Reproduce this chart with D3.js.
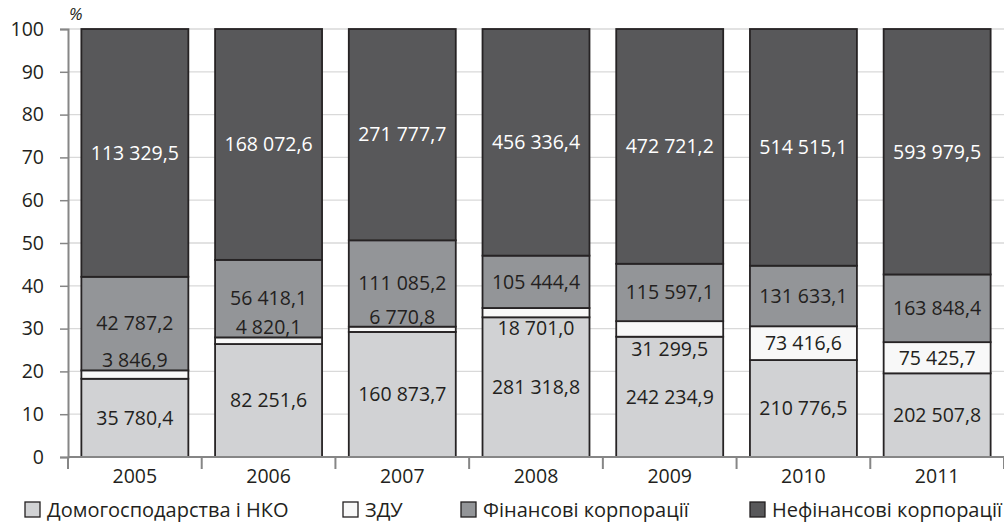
<!DOCTYPE html>
<html>
<head>
<meta charset="utf-8">
<script src="https://cdn.jsdelivr.net/npm/d3@7"></script>
<style>
  html, body { margin: 0; padding: 0; background: #ffffff; }
  svg { display: block; font-family: "Open Sans", sans-serif; }
</style>
</head>
<body>
<svg id="chart" width="1004" height="524"></svg>
<script>
// Years on the x axis
const years = ["2005", "2006", "2007", "2008", "2009", "2010", "2011"];

// Series names (legend order = stacking order, bottom to top)
const seriesNames = ["Домогосподарства і НКО", "ЗДУ", "Фінансові корпорації", "Нефінансові корпорації"];

// Absolute amounts per sector, by year
const households = [35780.4, 82251.6, 160873.7, 281318.8, 242234.9, 210776.5, 202507.8];
const government = [3846.9, 4820.1, 6770.8, 18701.0, 31299.5, 73416.6, 75425.7];
const financial = [42787.2, 56418.1, 111085.2, 105444.4, 115597.1, 131633.1, 163848.4];
const nonFinancial = [113329.5, 168072.6, 271777.7, 456336.4, 472721.2, 514515.1, 593979.5];

// Y axis ticks (percent)
const yTicks = [0, 10, 20, 30, 40, 50, 60, 70, 80, 90, 100];

const seriesValues = [households, government, financial, nonFinancial];
const keys = ["hh", "gov", "fin", "nonfin"];
const fills = ["#d1d2d4", "#f8f8f8", "#939598", "#58585a"];
const labelColors = ["#231f20", "#231f20", "#231f20", "#ffffff"];

// Small vertical shifts (px) for the narrow government-sector labels
const govLabelShift = [-14, -14, -12, 16, 20, 0, 0];

const rows = years.map((yr, i) => {
  const r = { year: yr };
  keys.forEach((k, j) => { r[k] = seriesValues[j][i]; });
  return r;
});

const stacked = d3.stack().keys(keys).offset(d3.stackOffsetExpand)(rows);

const svg = d3.select("#chart");
const plotLeft = 68, plotRight = 1004, plotTop = 29, plotBottom = 457;

const x = d3.scaleBand().domain(years).range([plotLeft, plotRight]).paddingInner(0.2).paddingOuter(0.1);
const y = d3.scaleLinear().domain([0, 100]).range([plotBottom, plotTop]);

// Gridlines
svg.append("g")
  .selectAll("line")
  .data(yTicks.filter(t => t > 0))
  .join("line")
  .attr("x1", plotLeft).attr("x2", plotRight)
  .attr("y1", d => y(d)).attr("y2", d => y(d))
  .attr("stroke", "#d9d9d9").attr("stroke-width", 1.3);

// Y axis
const yAxis = svg.append("g")
  .attr("transform", `translate(${plotLeft},0)`)
  .call(d3.axisLeft(y).tickValues(yTicks).tickSize(8).tickPadding(16).tickFormat(d3.format("d")));
yAxis.select(".domain").attr("stroke", "#868686").attr("stroke-width", 2);
yAxis.selectAll(".tick line").attr("stroke", "#868686").attr("stroke-width", 1.5);
yAxis.selectAll(".tick text").attr("font-size", 19.5).attr("fill", "#231f20")
  .attr("font-family", "Open Sans, sans-serif");

// Bars
const layers = svg.append("g").selectAll("g")
  .data(stacked)
  .join("g")
  .attr("fill", (d, i) => fills[i]);

layers.selectAll("rect")
  .data(d => d)
  .join("rect")
  .attr("x", d => x(d.data.year))
  .attr("width", x.bandwidth())
  .attr("y", d => y(d[1] * 100))
  .attr("height", d => y(d[0] * 100) - y(d[1] * 100))
  .attr("stroke", "#262324")
  .attr("stroke-width", 1.8);

// Value labels
const fmt = v => {
  const s = d3.format(",.1f")(v);
  return s.replace(/,/g, " ").replace(".", ",");
};

stacked.forEach((layer, si) => {
  svg.append("g").selectAll("text")
    .data(layer)
    .join("text")
    .attr("x", d => x(d.data.year) + x.bandwidth() / 2)
    .attr("y", (d, i) => y((d[0] + d[1]) / 2 * 100) + (si === 1 ? govLabelShift[i] : 0))
    .attr("dy", "0.35em")
    .attr("text-anchor", "middle")
    .attr("font-size", 19.5)
    .attr("fill", labelColors[si])
    .text(d => fmt(d.data[keys[si]]));
});

// X axis
svg.append("line")
  .attr("x1", plotLeft).attr("x2", plotRight)
  .attr("y1", plotBottom).attr("y2", plotBottom)
  .attr("stroke", "#868686").attr("stroke-width", 2);

const step = x.step();
svg.append("g").selectAll("line")
  .data(d3.range(years.length + 1))
  .join("line")
  .attr("x1", i => plotLeft + i * step).attr("x2", i => plotLeft + i * step)
  .attr("y1", plotBottom).attr("y2", plotBottom + 12)
  .attr("stroke", "#868686").attr("stroke-width", 2);

svg.append("g").selectAll("text")
  .data(years)
  .join("text")
  .attr("x", d => x(d) + x.bandwidth() / 2)
  .attr("y", plotBottom + 26)
  .attr("text-anchor", "middle")
  .attr("font-size", 19.5)
  .attr("fill", "#231f20")
  .text(d => d);

// Unit mark
svg.append("text")
  .attr("x", 69).attr("y", 20)
  .attr("font-size", 17)
  .attr("font-style", "italic")
  .attr("fill", "#231f20")
  .text("%");

// Legend
const legendX = [25, 343, 461, 750];
const legend = svg.append("g").selectAll("g")
  .data(seriesNames)
  .join("g")
  .attr("transform", (d, i) => `translate(${legendX[i]},502)`);

legend.append("rect")
  .attr("width", 15).attr("height", 15)
  .attr("fill", (d, i) => fills[i])
  .attr("stroke", "#231f20").attr("stroke-width", 1.3);

legend.append("text")
  .attr("x", 22).attr("y", 7.5)
  .attr("dy", "0.35em")
  .attr("font-size", 20)
  .attr("fill", "#231f20")
  .text(d => d);
</script>
</body>
</html>
